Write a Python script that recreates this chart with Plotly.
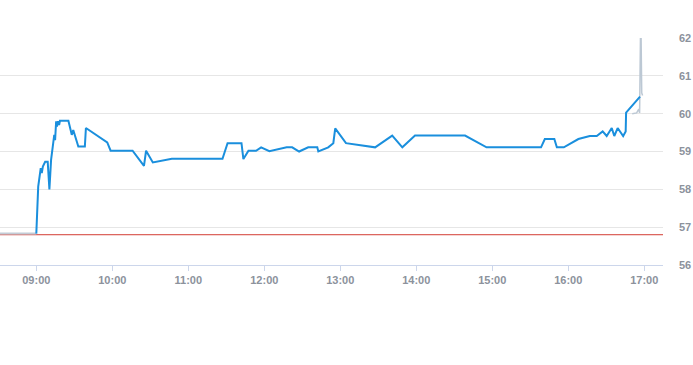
import plotly.graph_objects as go

DAY = "2024-01-02 "

prev_close = 56.80

pre_times = ["08:30:00", "09:00:00"]
pre_vals = [56.83, 56.83]

blue_times = [
    "09:00:00", "09:01:30", "09:03:30", "09:04:20", "09:05:10", "09:07:00", "09:09:00",
    "09:10:20", "09:11:40", "09:13:20", "09:14:10", "09:14:50", "09:15:40", "09:16:20",
    "09:17:00", "09:18:00", "09:18:40", "09:25:20", "09:28:00", "09:29:10", "09:30:40",
    "09:33:10", "09:38:20", "09:39:10", "09:56:00", "09:58:40", "10:16:00", "10:25:00",
    "10:26:40", "10:32:00", "10:47:00", "11:27:00", "11:31:00", "11:42:00", "11:43:30",
    "11:47:30", "11:53:30", "11:57:30", "12:04:00", "12:17:40", "12:22:00", "12:27:30",
    "12:34:40", "12:41:50", "12:42:40", "12:50:30", "12:54:30", "12:56:00", "13:04:30",
    "13:27:30", "13:41:00", "13:49:00", "13:59:00", "14:38:30", "14:55:30", "15:38:30",
    "15:41:30", "15:49:00", "15:51:00", "15:56:30", "16:08:00", "16:17:00", "16:22:30",
    "16:27:10", "16:30:20", "16:34:20", "16:36:20", "16:39:00", "16:43:20", "16:45:20",
    "16:45:40", "16:56:40",
]
blue_vals = [
    56.83, 58.07, 58.56, 58.43, 58.60, 58.73, 58.73,
    58.00, 58.78, 59.22, 59.44, 59.30, 59.80, 59.66,
    59.80, 59.70, 59.81, 59.81, 59.44, 59.57, 59.40,
    59.13, 59.13, 59.62, 59.24, 59.02, 59.02, 58.62,
    59.02, 58.71, 58.81, 58.81, 59.22, 59.22, 58.80,
    59.02, 59.02, 59.11, 59.01, 59.11, 59.11, 59.00,
    59.11, 59.11, 59.00, 59.11, 59.22, 59.61, 59.22,
    59.11, 59.42, 59.11, 59.42, 59.42, 59.11, 59.11,
    59.33, 59.33, 59.11, 59.11, 59.33, 59.41, 59.41,
    59.53, 59.41, 59.62, 59.41, 59.62, 59.41, 59.53,
    60.03, 60.45,
]

post_times = ["16:50:30", "16:54:00", "16:55:40", "16:56:20", "16:57:00", "16:57:30", "16:58:00", "16:58:40"]
post_vals = [60.00, 60.02, 60.12, 60.02, 62.00, 62.00, 60.55, 60.48]

x_ticks = ["09:00", "10:00", "11:00", "12:00", "13:00", "14:00", "15:00", "16:00", "17:00"]
y_ticks = [56, 57, 58, 59, 60, 61, 62]
x_range = ["08:31:20", "17:14:48"]
y_range = [56, 62]


def ts(t):
    return DAY + t


fig = go.Figure()
fig.add_trace(go.Scatter(x=[ts(x_range[0]), ts(x_range[1])], y=[prev_close, prev_close],
                         mode="lines", line=dict(color="#d23c32", width=1), hoverinfo="skip"))
fig.add_trace(go.Scatter(x=[ts(t) for t in pre_times], y=pre_vals, mode="lines",
                         line=dict(color="#c2ccd6", width=2)))
fig.add_trace(go.Scatter(x=[ts(t) for t in post_times], y=post_vals, mode="lines",
                         line=dict(color="#bcc8d4", width=1.5)))
fig.add_trace(go.Scatter(x=[ts(t) for t in blue_times], y=blue_vals, mode="lines",
                         line=dict(color="#1a8fdd", width=2)))

tickfont = dict(family="Liberation Sans, Arial, sans-serif", size=11, color="#8c929c", weight="bold")

fig.update_layout(
    width=693, height=365,
    margin=dict(l=0, r=30, t=38, b=100),
    paper_bgcolor="white", plot_bgcolor="white",
    showlegend=False,
)
fig.update_xaxes(
    type="date",
    range=[ts(x_range[0]), ts(x_range[1])],
    tickvals=[ts(t + ":00") for t in x_ticks],
    ticktext=x_ticks,
    showgrid=False, zeroline=False,
    showline=True, linecolor="#ccd6eb", linewidth=1,
    ticks="outside", ticklen=5, tickcolor="#ccd6eb",
    tickfont=tickfont, automargin=False,
)
fig.update_yaxes(
    range=y_range, side="right",
    tickvals=y_ticks, ticktext=[str(v) for v in y_ticks],
    showgrid=True, gridcolor="#e6e6e6", gridwidth=1,
    zeroline=False, showline=False,
    ticks="", ticklabelstandoff=15,
    tickfont=tickfont, automargin=False,
)

fig.write_html("out.html")
